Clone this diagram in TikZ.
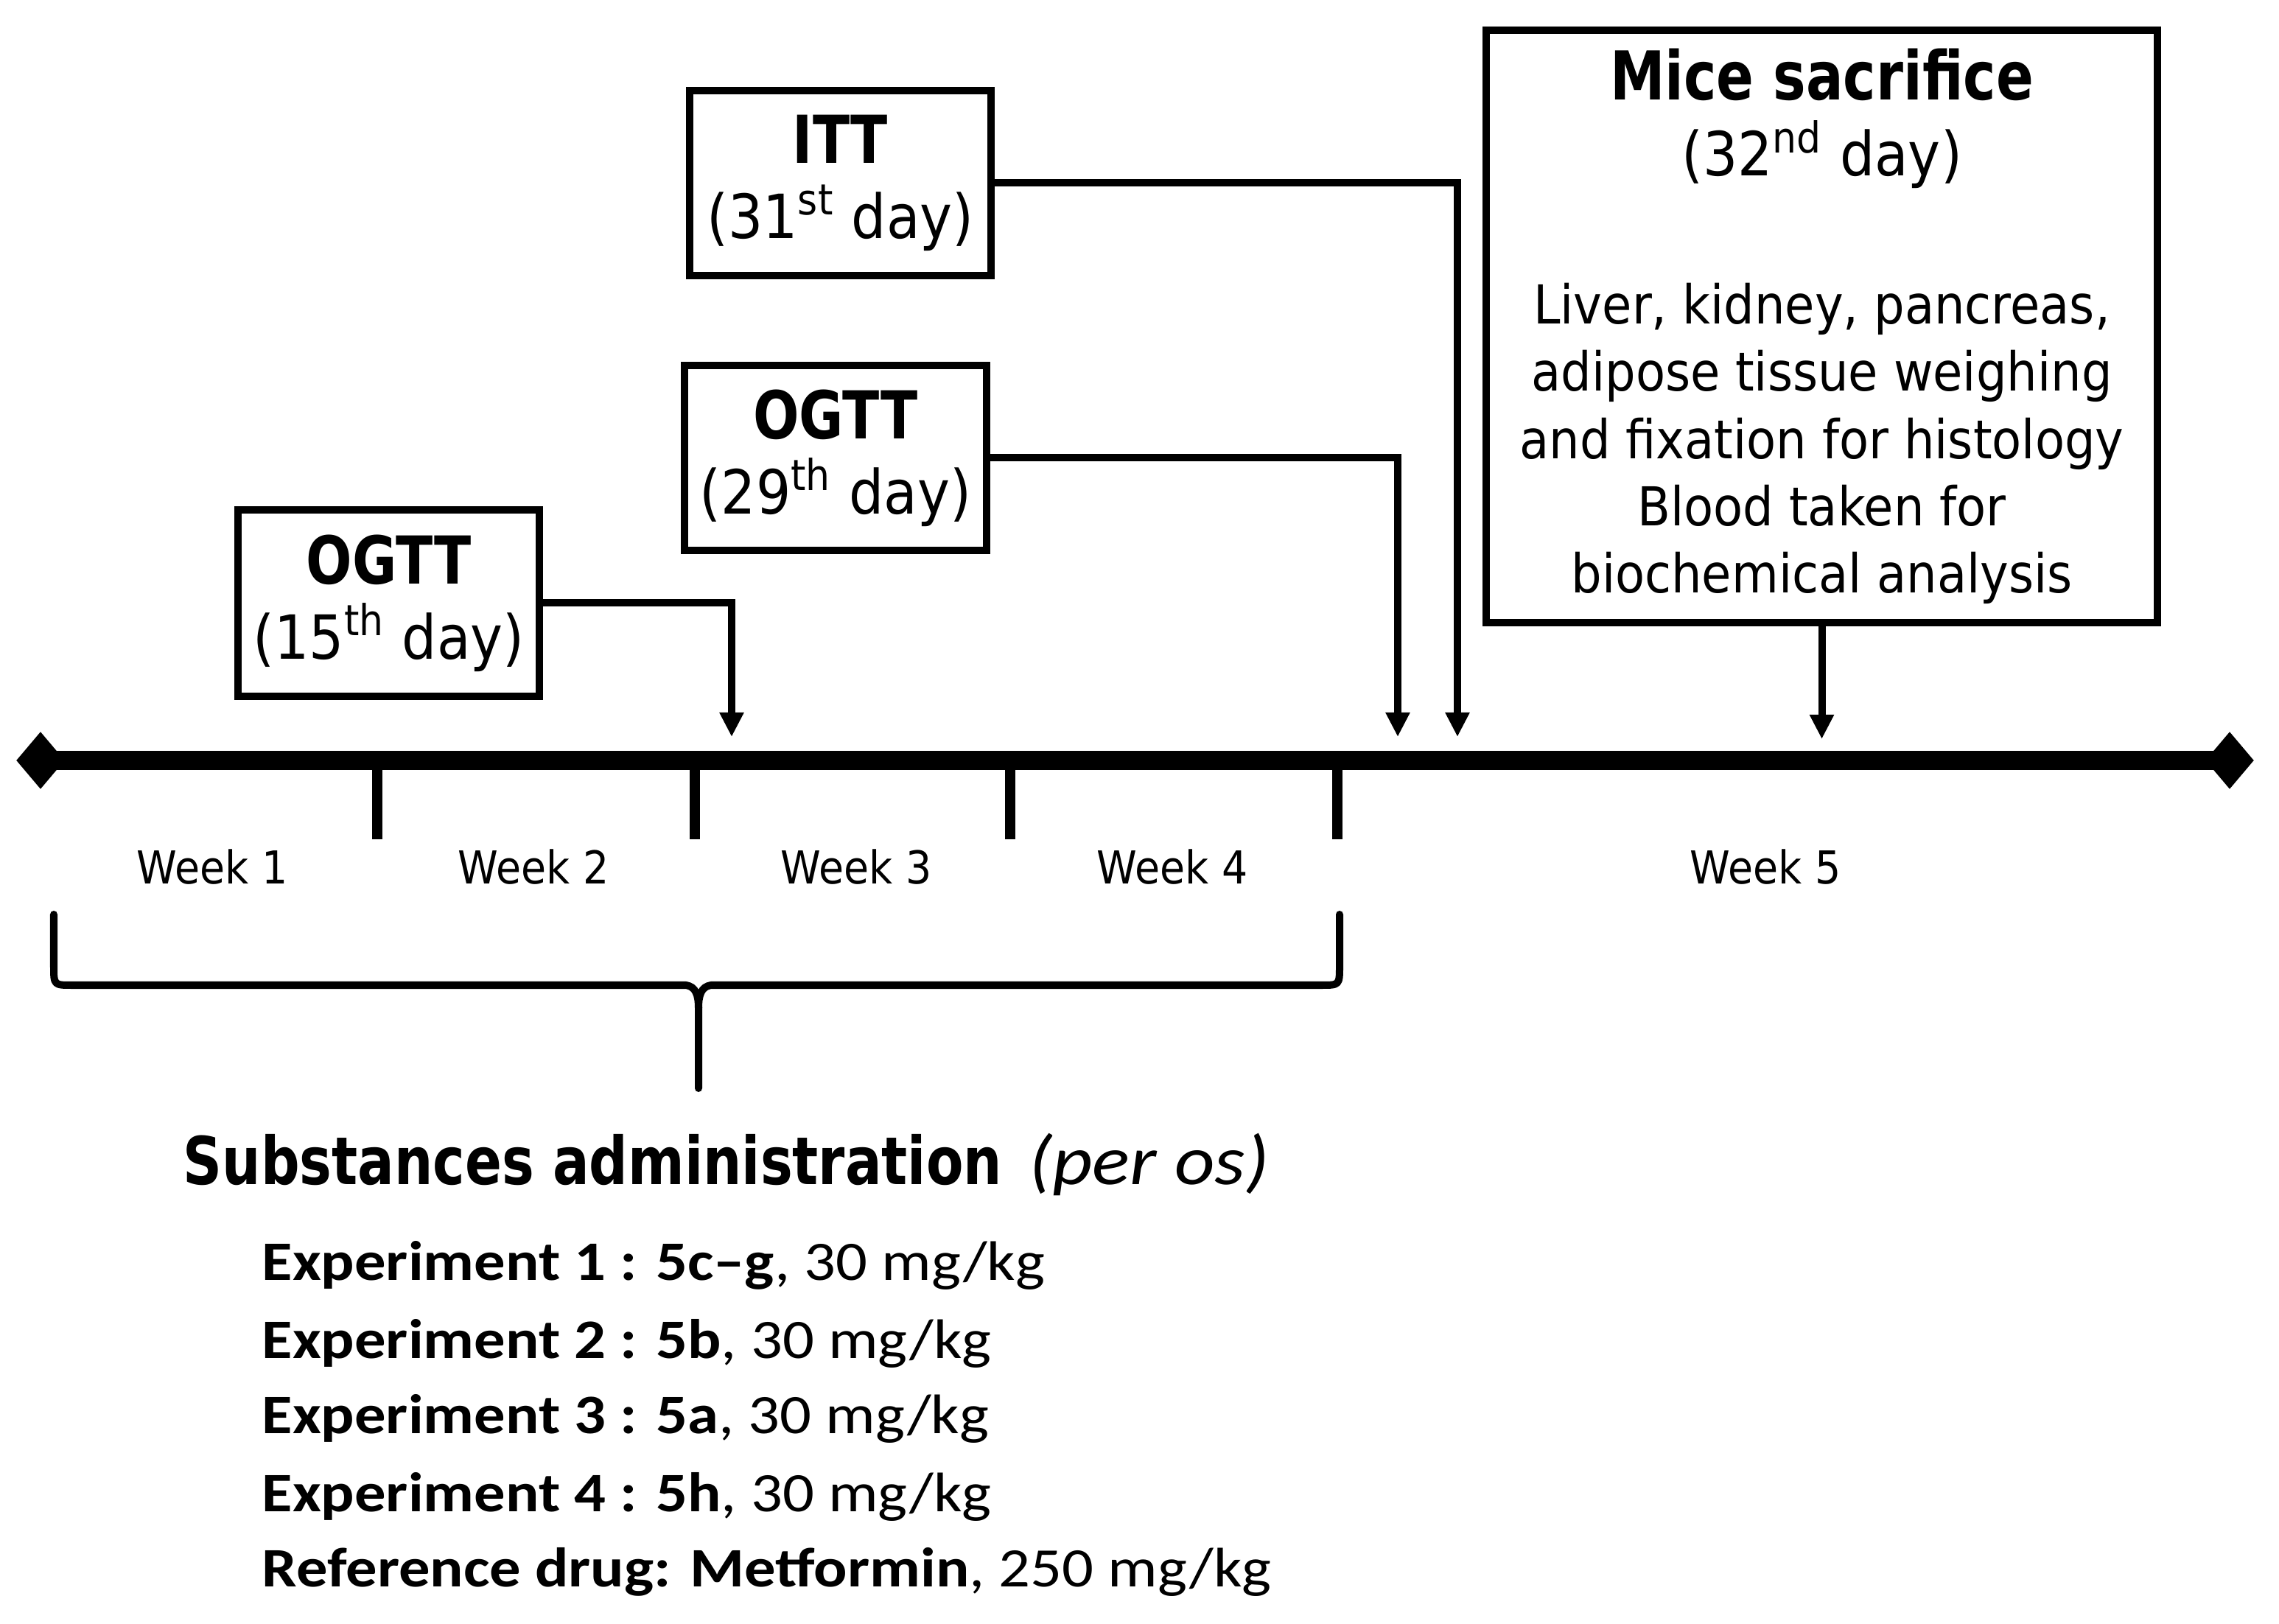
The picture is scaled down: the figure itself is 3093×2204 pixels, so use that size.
\documentclass[tikz,border=0pt]{standalone}
\usepackage{fontspec}
\usetikzlibrary{shapes.geometric,arrows.meta}
\newfontfamily\tahfont[FakeStretch=0.9,BoldFeatures={FakeStretch=0.82}]{DejaVu Sans}
\newfontfamily\calfont[FakeStretch=1.12]{Carlito}
\begin{document}
\begin{tikzpicture}[x=0.01cm,y=-0.01cm,
  box/.style={draw,line width=0.1cm,inner sep=0pt,align=center,font=\tahfont\fontsize{23.5}{29}\selectfont},
  conn/.style={line width=0.1cm,-{Triangle[length=0.33cm,width=0.31cm]}},
  tickline/.style={line width=0.14cm},
  axis/.style={line width=0.26cm},
  endmark/.style={diamond,fill,inner sep=0pt,minimum width=0.66cm,minimum height=0.78cm},
  week/.style={inner sep=0pt,font=\tahfont\fontsize{17.5}{20}\selectfont},
  brace/.style={line width=0.1cm,line cap=round,line join=round},
  expline/.style={anchor=base west,inner sep=0pt,font=\calfont\fontsize{21.5}{25}\selectfont}]
\useasboundingbox (0,0) rectangle (3093,2204);

% boxes
\node[box,minimum width=4.09cm,minimum height=2.51cm] (itt) at (1140.5,248.5)
  {{\bfseries\fontsize{25.5}{29}\selectfont ITT}\\(31\textsuperscript{st} day)};
\node[box,minimum width=4.10cm,minimum height=2.51cm] (o29) at (1134,621.5)
  {{\bfseries\fontsize{25.5}{29}\selectfont OGTT}\\(29\textsuperscript{th} day)};
\node[box,minimum width=4.09cm,minimum height=2.53cm] (o15) at (527.5,818.5)
  {{\bfseries\fontsize{25.5}{29}\selectfont OGTT}\\(15\textsuperscript{th} day)};
\node[box,minimum width=9.11cm,minimum height=8.04cm,font=\tahfont\fontsize{20.7}{26}\selectfont] (mice) at (2472.5,443)
  {{\bfseries\fontsize{26}{29}\selectfont Mice sacrifice}\\[3.4pt]
   {\fontsize{23.5}{26}\selectfont (32\textsuperscript{nd} day)}\\[31pt]
   Liver, kidney, pancreas,\\adipose tissue weighing\\and fixation for histology\\Blood taken for\\biochemical analysis};

% timeline
\node[endmark] (dl) at (55,1032) {};
\node[endmark] (dr) at (3026,1032) {};
\draw[axis] (dl.center) -- (dr.center);
\coordinate (k1) at (512,1032);
\coordinate (k2) at (943,1032);
\coordinate (k3) at (1371,1032);
\coordinate (k4) at (1815,1032);
\foreach \k in {k1,k2,k3,k4} \draw[tickline] (\k) -- ++(0,107);

% arrow targets
\coordinate (a15) at (993,1000);
\coordinate (a29) at (1897,1000);
\coordinate (aitt) at (1978,1000);
\coordinate (amice) at (2472.5,1003);
\draw[conn] (o15.east) -| (a15);
\draw[conn] (o29.east) -| (a29);
\draw[conn] (itt.east) -| (aitt);
\draw[conn] (mice.south) -- (amice);

% week labels
\node[week] (w1) at (288,1177) {Week 1};
\node[week] (w2) at (724,1177) {Week 2};
\node[week] (w3) at (1162,1177) {Week 3};
\node[week] (w4) at (1591,1177) {Week 4};
\node[week] (w5) at (2396,1177) {Week 5};

% brace
\draw[brace] (73,1241) -- (73,1311) .. controls (73,1337) .. (98,1337) -- (931,1337)
  .. controls (944,1339) and (948,1350) .. (948,1368) -- (948,1477);
\draw[brace] (1818,1241) -- (1818,1311) .. controls (1818,1337) .. (1793,1337) -- (965,1337)
  .. controls (952,1339) and (948,1350) .. (948,1368);

% substances
\node[anchor=base west,inner sep=0pt] (subst) at (248,1607)
  {{\tahfont\bfseries\fontsize{25.5}{30}\selectfont Substances administration}\hspace{0.36cm}{\calfont\itshape\fontsize{27}{30}\selectfont (per os)}};
\node[expline] (e1) at (355,1737) {\textbf{Experiment 1 : 5c–g}, 30 mg/kg};
\node[expline] (e2) at (355,1843) {\textbf{Experiment 2 : 5b}, 30 mg/kg};
\node[expline] (e3) at (355,1945) {\textbf{Experiment 3 : 5a}, 30 mg/kg};
\node[expline] (e4) at (355,2051) {\textbf{Experiment 4 : 5h}, 30 mg/kg};
\node[expline] (e5) at (355,2153) {\textbf{Reference drug: Metformin}, 250 mg/kg};
\end{tikzpicture}
\end{document}
